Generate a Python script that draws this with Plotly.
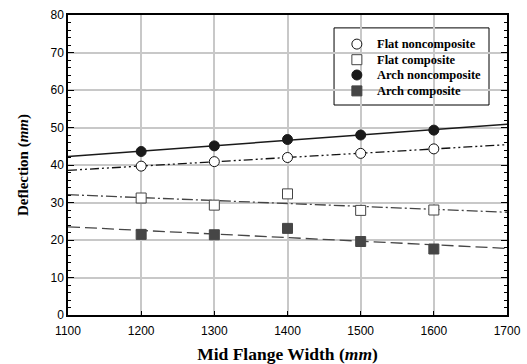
import numpy as np
import plotly.graph_objects as go

widths = [1200, 1300, 1400, 1500, 1600]
flat_noncomposite = [39.7, 40.9, 42.0, 43.1, 44.3]
flat_composite = [31.2, 29.3, 32.3, 27.9, 28.0]
arch_noncomposite = [43.6, 45.1, 46.8, 48.0, 49.3]
arch_composite = [21.5, 21.4, 23.1, 19.6, 17.6]
series_names = ["Flat noncomposite", "Flat composite", "Arch noncomposite", "Arch composite"]
trend_x = [1100, 1700]

series_values = [flat_noncomposite, flat_composite, arch_noncomposite, arch_composite]
marker_styles = [
    dict(symbol="circle", size=10, color="white", line=dict(color="#111", width=1)),
    dict(symbol="square", size=10, color="white", line=dict(color="#444", width=1)),
    dict(symbol="circle", size=10, color="#1a1a1a", line=dict(color="#1a1a1a", width=1)),
    dict(symbol="square", size=10, color="#464646", line=dict(color="#464646", width=1)),
]
line_styles = [
    dict(color="#111", width=1.3, dash="9px,3px,2px,3px,2px,3px"),
    dict(color="#444", width=1.3, dash="11px,3px,2px,3px"),
    dict(color="#1a1a1a", width=1.5, dash="solid"),
    dict(color="#464646", width=1.3, dash="12px,5px"),
]

fig = go.Figure()
for ys, ln in zip(series_values, line_styles):
    coef = np.polyfit(widths, ys, 1)
    ty = np.polyval(coef, trend_x)
    fig.add_trace(go.Scatter(x=trend_x, y=ty, mode="lines", line=ln,
                             showlegend=False, hoverinfo="skip"))
for name, ys, mk in zip(series_names, series_values, marker_styles):
    fig.add_trace(go.Scatter(x=widths, y=ys, mode="markers", marker=mk, name=name,
                             showlegend=False))

# manual legend (box, markers, labels) in a hidden 0..1 overlay frame
serif = "Liberation Serif"
sans = "Liberation Sans"
leg_x0, leg_x1, leg_y0, leg_y1 = 0.606, 0.959, 0.70, 0.957
row_y = [0.903, 0.851, 0.800, 0.747]
mk_x = 0.658
txt_x = 0.700
fig.add_shape(type="rect", xref="paper", yref="paper",
              x0=leg_x0, x1=leg_x1, y0=leg_y0, y1=leg_y1,
              line=dict(color="black", width=1), fillcolor="white", layer="between")
for name, mk, yy in zip(series_names, marker_styles, row_y):
    fig.add_trace(go.Scatter(x=[mk_x], y=[yy], mode="markers", marker=mk,
                             xaxis="x2", yaxis="y2", showlegend=False, hoverinfo="skip"))
    fig.add_annotation(x=txt_x, y=yy, xref="paper", yref="paper", text=f"<b>{name}</b>",
                       showarrow=False, xanchor="left", yanchor="middle",
                       font=dict(family=serif, size=12.5, color="black"))

fig.update_layout(
    width=527, height=364,
    margin=dict(l=68, r=20, t=15, b=49),
    paper_bgcolor="white", plot_bgcolor="white",
    font=dict(family=sans, size=12, color="black"),
    showlegend=False,
    xaxis=dict(
        range=[1100, 1700], dtick=100, tick0=1100,
        showgrid=True, gridcolor="#c8c8c8", gridwidth=1.5,
        showline=True, linecolor="black", linewidth=1.5, mirror=True,
        ticks="inside", ticklen=4, tickcolor="black",
        ticklabelstandoff=4,
        zeroline=False, automargin=False,
        title=dict(text="<b>Mid Flange Width (<i>mm</i>)</b>",
                   font=dict(family=serif, size=17.5), standoff=11),
    ),
    yaxis=dict(
        range=[0, 80], dtick=10,
        showgrid=True, gridcolor="#c8c8c8", gridwidth=1.5,
        showline=True, linecolor="black", linewidth=1.5, mirror="ticks",
        ticks="inside", ticklen=6, tickcolor="black",
        minor=dict(dtick=2, ticks="inside", ticklen=3, tickcolor="black", showgrid=False),
        zeroline=False, automargin=False,
        title=dict(text="<b>Deflection (<i>mm</i>)</b>",
                   font=dict(family=serif, size=15), standoff=18),
    ),
    xaxis2=dict(overlaying="x", range=[0, 1], visible=False, fixedrange=True),
    yaxis2=dict(overlaying="y", range=[0, 1], visible=False, fixedrange=True),
)

fig.write_html("out.html", post_script="document.body.style.margin='0';",
               config={"displayModeBar": False})
